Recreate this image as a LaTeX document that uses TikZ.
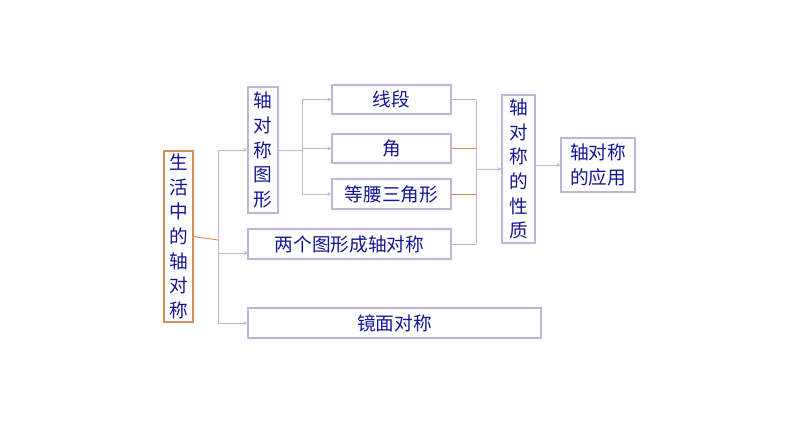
\documentclass[tikz,border=0pt]{standalone}
\usepackage{fontspec}
\setmainfont{Noto Sans CJK SC}
\usetikzlibrary{arrows.meta}
\definecolor{txt}{RGB}{20,20,150}
\definecolor{lav}{RGB}{190,180,220}
\definecolor{org}{RGB}{215,140,90}
\tikzset{
 bx/.style={draw=lav,line width=0.8pt,text=txt,font=\fontsize{14}{18.5}\selectfont,inner sep=0pt,align=center},
 ln/.style={draw=lav,line width=0.7pt},
 ol/.style={draw=org,line width=0.7pt},
 ar/.style={ln,-{Stealth[length=3pt,width=3pt]}}
}
\begin{document}
\begin{tikzpicture}[x=0.75pt,y=-0.75pt]
\useasboundingbox (0,0) rectangle (794,447);
\node[bx,draw=org,minimum width=29*0.75pt,minimum height=171*0.75pt] (a) at (178.5,236.5) {生\\活\\中\\的\\轴\\对\\称};
\node[bx,minimum width=30*0.75pt,minimum height=126*0.75pt] (b) at (263,150) {轴\\对\\称\\图\\形};
\node[bx,minimum width=119*0.75pt,minimum height=29*0.75pt] (c1) at (391.5,99.5) {线段};
\node[bx,minimum width=119*0.75pt,minimum height=29*0.75pt] (c2) at (391.5,148.5) {角};
\node[bx,minimum width=119*0.75pt,minimum height=30*0.75pt] (c3) at (391.5,194) {等腰三角形};
\node[bx,minimum width=203*0.75pt,minimum height=30*0.75pt] (d) at (349.5,244) {两个图形成轴对称};
\node[bx,minimum width=293*0.75pt,minimum height=30*0.75pt] (e) at (394.5,323) {镜面对称};
\node[bx,minimum width=33*0.75pt,minimum height=148*0.75pt] (f) at (518.5,169) {轴\\对\\称\\的\\性\\质};
\node[bx,minimum width=74*0.75pt,minimum height=54*0.75pt] (g) at (598,165) {轴对称\\的应用};
\coordinate (j1) at (218,240);
\coordinate (j2) at (302,150);
\coordinate (j3) at (476,169);
\draw[ol] (a.east) -- (j1);
\draw[ln] (j1 |- b.west) -- (j1 |- e.west);
\draw[ar] (j1 |- b.west) -- (b.west);
\draw[ar] (218,253) -- (248,253);
\draw[ar] (j1 |- e.west) -- (e.west);
\draw[ln] (b.east) -- (j2);
\draw[ln] (j2 |- c1.west) -- (j2 |- c3.west);
\draw[ar] (j2 |- c1.west) -- (c1.west);
\draw[ar] (j2 |- c2.west) -- (c2.west);
\draw[ar] (j2 |- c3.west) -- (c3.west);
\draw[ln] (c1.east) -- (j3 |- c1.east);
\draw[ol] (c2.east) -- (j3 |- c2.east);
\draw[ol] (c3.east) -- (j3 |- c3.east);
\draw[ln] (d.east) -- (j3 |- d.east);
\draw[ln] (j3 |- c1.east) -- (j3 |- d.east);
\draw[ar] (j3) -- (j3 -| f.west);
\draw[ar] (f.east |- g.west) -- (g.west);
\end{tikzpicture}
\end{document}
